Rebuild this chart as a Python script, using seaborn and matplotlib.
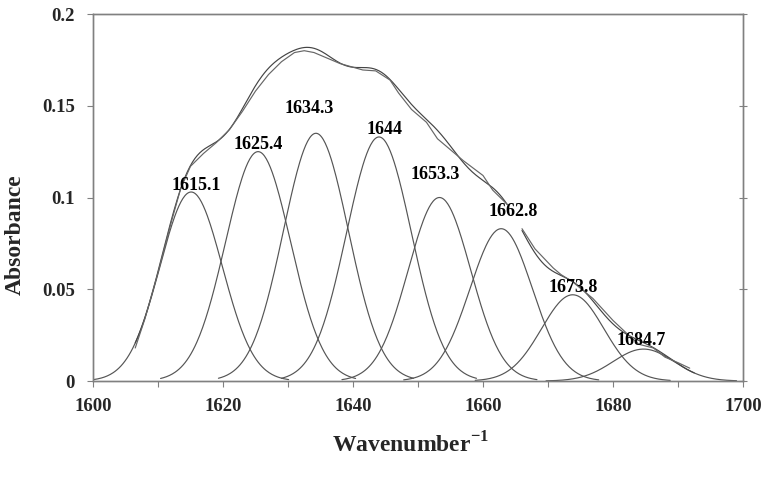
import numpy as np
import pandas as pd
import matplotlib
matplotlib.use("Agg")
import matplotlib.pyplot as plt
import seaborn as sns

##########################################################
# Data
##########################################################

peak_centers = [1615.1, 1625.4, 1634.3, 1644.0, 1653.3, 1662.8, 1673.8, 1684.7]
peak_heights = [0.103, 0.125, 0.135, 0.133, 0.100, 0.083, 0.047, 0.0174]
peak_sigmas = [4.8, 5.0, 5.0, 5.0, 4.8, 4.8, 4.8, 4.7]
peak_labels = ["1615.1", "1625.4", "1634.3", "1644", "1653.3", "1662.8", "1673.8", "1684.7"]

# measured spectrum (two traced pieces)
meas_x1 = [1606.5, 1608, 1610, 1612, 1613.5, 1615, 1617, 1619, 1621, 1623, 1625,
           1627, 1629, 1631, 1632.5, 1634, 1636, 1638, 1640, 1641.5, 1643.5,
           1645.7, 1647, 1649, 1651.3, 1653, 1655, 1657, 1660, 1661.5, 1663.8]
meas_y1 = [0.018, 0.034, 0.059, 0.086, 0.105, 0.117, 0.124, 0.130, 0.137, 0.147, 0.158,
           0.167, 0.174, 0.179, 0.180, 0.179, 0.176, 0.173, 0.171, 0.1695, 0.169,
           0.164, 0.157, 0.148, 0.141, 0.132, 0.126, 0.120, 0.112, 0.104, 0.096]
meas_x2 = [1666.0, 1668, 1670.8, 1672, 1673.8, 1676.9, 1680, 1682.1, 1684, 1686.2,
           1688, 1690, 1691.8]
meas_y2 = [0.083, 0.072, 0.0616, 0.058, 0.054, 0.045, 0.033, 0.026, 0.020, 0.018,
           0.013, 0.010, 0.007]

# ranges where the fitted envelope is drawn
fit_ranges = [(1606.5, 1663.7), (1666.0, 1692.5)]

# label offsets in pixels (dx, dy above peak)
label_offsets = [(5, 2), (0, 3), (-7, 20), (6, 3), (-4, 19), (12, 13), (0, 3), (-2, 4)]

##########################################################
# Build tables
##########################################################


def gauss(x, c, h, s):
    return h * np.exp(-((x - c) ** 2) / (2 * s ** 2))


rows = []
for i, (c, h, s) in enumerate(zip(peak_centers, peak_heights, peak_sigmas)):
    xs = np.linspace(max(1600, c - 15), min(1699, c + 15), 200)
    rows.append(pd.DataFrame({"x": xs, "y": gauss(xs, c, h, s), "peak": i}))
comp_df = pd.concat(rows)

fit_rows = []
for j, (a, b) in enumerate(fit_ranges):
    xs = np.linspace(a, b, 300)
    ys = sum(gauss(xs, c, h, s) for c, h, s in zip(peak_centers, peak_heights, peak_sigmas))
    fit_rows.append(pd.DataFrame({"x": xs, "y": ys, "part": j}))
fit_df = pd.concat(fit_rows)

meas_df = pd.concat([
    pd.DataFrame({"x": meas_x1, "y": meas_y1, "part": 0}),
    pd.DataFrame({"x": meas_x2, "y": meas_y2, "part": 1}),
])

##########################################################
# Plot
##########################################################

sns.set_theme(style="white")
plt.rcParams["font.family"] = ["Liberation Serif", "DejaVu Serif"]
plt.rcParams["font.weight"] = "bold"
plt.rcParams["mathtext.fontset"] = "custom"
plt.rcParams["mathtext.rm"] = "Liberation Serif"
plt.rcParams["mathtext.bf"] = "Liberation Serif:bold"

fig = plt.figure(figsize=(7.71, 4.78), dpi=100)
ax = fig.add_axes([0.1206, 0.2029, 0.8431, 0.7678])

sns.lineplot(data=comp_df, x="x", y="y", units="peak", estimator=None,
             color="#555555", linewidth=0.85, ax=ax)
sns.lineplot(data=fit_df, x="x", y="y", units="part", estimator=None,
             color="#444444", linewidth=0.85, ax=ax)
sns.lineplot(data=meas_df, x="x", y="y", units="part", estimator=None,
             color="#666666", linewidth=0.85, ax=ax)

for c, h, lab, (dx, dy) in zip(peak_centers, peak_heights, peak_labels, label_offsets):
    ax.annotate(lab, (c, h), xytext=(dx, dy), textcoords="offset pixels",
                ha="center", va="baseline", fontsize=13, fontweight="bold",
                color="black")

ax.set_xlim(1600, 1700)
ax.set_ylim(0, 0.2)
ax.set_xticks([1600, 1620, 1640, 1660, 1680, 1700])
ax.set_xticks(np.arange(1610, 1700, 20), minor=True)
ax.set_yticks([0, 0.05, 0.1, 0.15, 0.2])
ax.set_yticklabels(["0", "0.05", "0.1", "0.15", "0.2"])

ax.tick_params(axis="x", which="both", direction="out", length=4, width=0.8,
               color="#808080", bottom=True, top=False, labelsize=13.5, pad=8)
ax.tick_params(axis="y", which="both", direction="out", length=4, width=0.8,
               color="#808080", left=True, labelsize=13.5, pad=9)
for lab in ax.get_xticklabels() + ax.get_yticklabels():
    lab.set_fontweight("bold")

# right spine ticks crossing
ax_r = ax.twinx()
ax_r.set_ylim(0, 0.2)
ax_r.set_yticks([0, 0.05, 0.1, 0.15, 0.2])
ax_r.tick_params(axis="y", direction="inout", length=6, width=0.8,
                 color="#808080", labelright=False)

for a in (ax, ax_r):
    for sp in a.spines.values():
        sp.set_color("#808080")
        sp.set_linewidth(1.0)

ax.set_xlabel(r"Wavenumber$^{\mathbf{-1}}$", fontsize=17, fontweight="bold")
ax.set_ylabel("Absorbance", fontsize=17, fontweight="bold")
ax.xaxis.set_label_coords(0.488, -0.14)
ax.yaxis.set_label_coords(-0.103, 0.40)
ax_r.set_ylabel("")

fig.savefig("out.png", dpi=100)
